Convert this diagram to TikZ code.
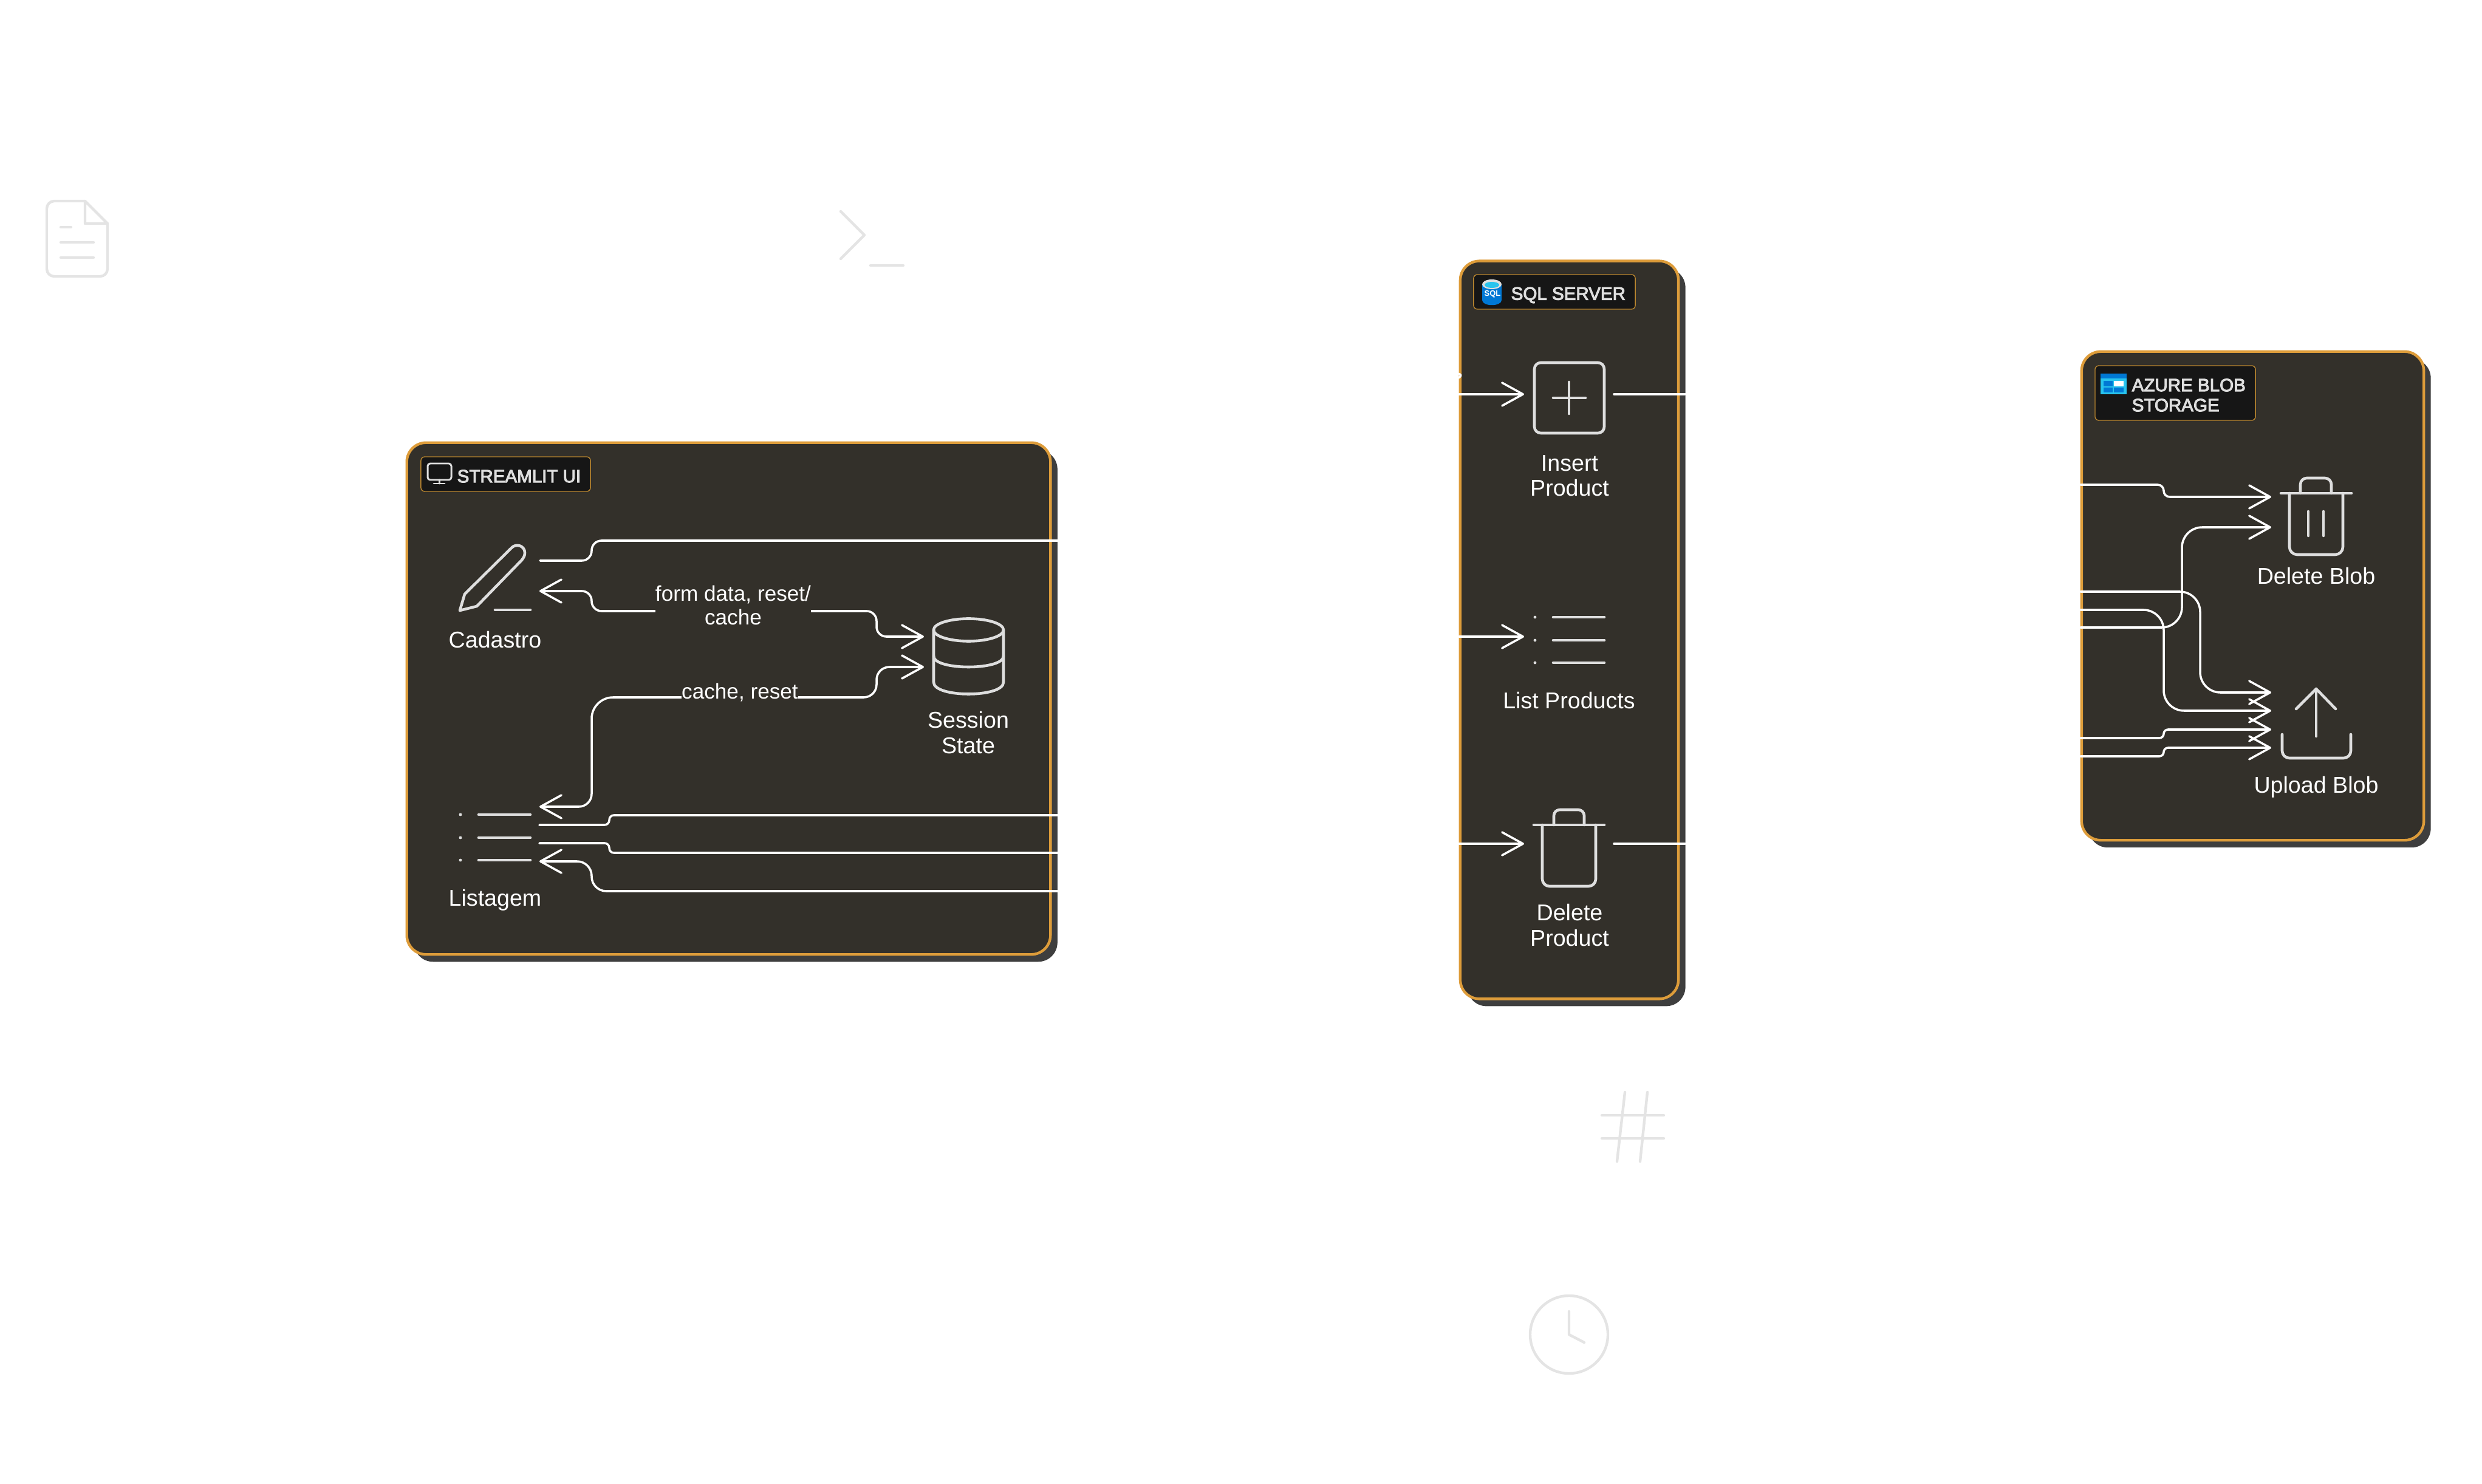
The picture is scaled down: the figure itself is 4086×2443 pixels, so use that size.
\documentclass[tikz,border=0pt]{standalone}
\usepackage{fontspec}
\setmainfont{Liberation Sans}
\newcommand{\heavytext}[1]{\special{pdf:code 2 Tr 0.3 w 0.87 0.87 0.87 RG}#1\special{pdf:code 0 Tr}}
\usetikzlibrary{arrows.meta,shadows}
\definecolor{panelfill}{HTML}{33302A}
\definecolor{paneledge}{HTML}{DD9C3A}
\definecolor{shadowgrey}{HTML}{3E3E3E}
\definecolor{badgefill}{HTML}{161616}
\definecolor{badgeedge}{HTML}{B9862F}
\definecolor{icongrey}{HTML}{DEDEDE}
\definecolor{fadegrey}{HTML}{E4E4E4}
\definecolor{azuredark}{HTML}{0078D4}
\definecolor{azurelight}{HTML}{28C4EE}
\tikzset{
panel node/.style={rectangle,draw=paneledge,fill=panelfill,line width=1.25pt,rounded corners=9pt,inner sep=0pt,copy shadow={shadow xshift=0.115cm,shadow yshift=-0.12cm,draw=none,fill=shadowgrey}},
badge node/.style={rectangle,draw=badgeedge,fill=badgefill,line width=.4pt,rounded corners=1.8pt,inner sep=0pt},
badge text/.style={font=\fontsize{8.4}{9.4}\selectfont,text=icongrey,inner sep=0pt,anchor=west,align=left},
label node/.style={font=\fontsize{10.7}{11.8}\selectfont,text=white,inner sep=0pt,align=center},
flow label/.style={font=\fontsize{10}{11.1}\selectfont,text=white,fill=panelfill,inner sep=0pt,align=center},
conn/.style={draw=white,line width=1pt,line cap=round,line join=round},
tip/.style={-{Straight Barb[length=9.8pt,width=10.8pt,round]}},
both tips/.style={{Straight Barb[length=9.8pt,width=10.8pt,round]}-{Straight Barb[length=9.8pt,width=10.8pt,round]}},
icon/.style={draw=icongrey,line width=1.3pt,line cap=round,line join=round},
fade icon/.style={draw=fadegrey,line width=1.25pt,line cap=round,line join=round}
}
\begin{document}
\begin{tikzpicture}[x=0.01cm,y=-0.01cm]
\useasboundingbox (0,0) rectangle (4086,2443);
\draw[fade icon,rounded corners=3.5pt] (140,331) -- (77,331) -- (77,455) -- (177,455) -- (177,368);
\draw[fade icon] (140,331) -- (177,368) -- (140,368) -- cycle;
\draw[fade icon] (100,374) -- (117,374);
\draw[fade icon] (100,399) -- (154,399);
\draw[fade icon] (100,424) -- (154,424);
\draw[fade icon] (1384,348) -- (1423,387) -- (1384,426);
\draw[fade icon] (1433,437) -- (1487,437);
\draw[fade icon] (2637,1836) -- (2739,1836);
\draw[fade icon] (2637,1874) -- (2739,1874);
\draw[fade icon] (2675,1798) -- (2662,1912);
\draw[fade icon] (2712,1798) -- (2700,1912);
\draw[fade icon] (2583,2197) circle[radius=64];
\draw[fade icon] (2583,2159) -- (2583,2197) -- (2608,2210);

\node[panel node,minimum width=10.59cm,minimum height=8.42cm] (ui) at (1199.5,1150) {};
\node[panel node,minimum width=3.59cm,minimum height=12.14cm] (sql) at (2583.5,1037) {};
\node[panel node,minimum width=5.63cm,minimum height=8.04cm] (blob) at (3708.5,981) {};

\node[badge node,minimum width=2.79cm,minimum height=.57cm] (uiBadge) at (832.5,780.5) {};
\node[badge text] (uiTitle) at (752,784) {\heavytext{STREAMLIT UI}};
\draw[icon,line width=.85pt,rounded corners=1.2pt] (704,763) rectangle (743,790);
\draw[icon,line width=.85pt] (723,790) -- (723,796);
\draw[icon,line width=.85pt] (714,796) -- (732,796);

\node[badge node,minimum width=2.66cm,minimum height=.57cm] (sqlBadge) at (2559,480.5) {};
\node[badge text] (sqlTitle) at (2487,486) {\heavytext{SQL SERVER}};
\fill[azuredark] (2440,468) -- (2440,494) .. controls (2440,505) and (2472,505) .. (2472,494) -- (2472,468) -- cycle;
\fill[icongrey] (2456,468) ellipse[x radius=16,y radius=8];
\fill[azurelight] (2456,469) ellipse[x radius=12,y radius=5];
\node[font=\bfseries\fontsize{3.7}{4}\selectfont,text=white,inner sep=0pt] (sqlGlyph) at (2457,484) {SQL};

\node[badge node,minimum width=2.64cm,minimum height=.9cm] (blobBadge) at (3581,647) {};
\node[badge text] (blobTitle) at (3509,650.5) {\heavytext{AZURE BLOB}\\\heavytext{STORAGE}};
\fill[azurelight] (3458,615) rectangle (3501,649);
\fill[azuredark] (3458,615) rectangle (3501,623);
\fill[azuredark] (3463,627) rectangle (3478,636);
\fill[white] (3480,627) rectangle (3496,636);
\fill[azuredark] (3463,638) rectangle (3478,646);
\fill[azuredark] (3480,638) rectangle (3496,646);

\draw[icon] (757,1005) -- (765,978) -- (842,902) .. controls (849,894) and (864,898) .. (864,910) .. controls (864,915) and (862,918) .. (859,922) -- (785,998) -- cycle;
\draw[icon] (815,1004) -- (873,1004);
\node[label node] (cadastro) at (815,1053) {Cadastro};

\fill[icongrey] (758,1341) circle[radius=2.4];
\fill[icongrey] (758,1379) circle[radius=2.4];
\fill[icongrey] (758,1416) circle[radius=2.4];
\draw[icon] (788,1341) -- (873,1341);
\draw[icon] (788,1379) -- (873,1379);
\draw[icon] (788,1416) -- (873,1416);
\node[label node,anchor=base] (listagem) at (815,1491) {Listagem};

\draw[icon] (1594.5,1037) ellipse[x radius=57.5,y radius=18.5];
\draw[icon] (1537,1037) -- (1537,1123) .. controls (1537,1149) and (1652,1149) .. (1652,1123) -- (1652,1037);
\draw[icon] (1537,1080) .. controls (1537,1104) and (1652,1104) .. (1652,1080);
\node[label node] (session) at (1594,1206) {Session\\State};

\coordinate (cadOut) at (889,923);
\coordinate (cadIn) at (888,973);
\coordinate (stateA) at (1521,1048);
\coordinate (stateB) at (1521,1098);
\coordinate (listIn) at (888,1328);
\coordinate (listOutA) at (888,1358);
\coordinate (listOutB) at (888,1388);
\coordinate (listInB) at (888,1418);
\coordinate (uiEdgeA) at (1741,890);
\coordinate (uiEdgeB) at (1741,1342);
\coordinate (uiEdgeC) at (1741,1404);
\coordinate (uiEdgeD) at (1741,1467);
\draw[conn,rounded corners=4.6pt] (cadOut) -- (974,923) -- (974,890) -- (uiEdgeA);
\draw[conn,both tips,rounded corners=4.6pt] (cadIn) -- (974,973) -- (974,1006) -- (1443,1006) -- (1443,1048) -- (stateA);
\draw[conn,both tips,rounded corners=6pt] (listIn) -- (974,1328) [rounded corners=10pt] -- (974,1148) [rounded corners=6pt] -- (1443,1148) -- (1443,1098) -- (stateB);
\draw[conn,rounded corners=2.2pt] (listOutA) -- (1003,1358) -- (1003,1342) -- (uiEdgeB);
\draw[conn,rounded corners=2.2pt] (listOutB) -- (1003,1388) -- (1003,1404) -- (uiEdgeC);
\draw[conn,tip,rounded corners=6.8pt] (uiEdgeD) -- (974,1467) -- (974,1418) -- (listInB);
\node[flow label] (formLabel) at (1207,996) {form data, reset/\\cache};
\node[flow label] (cacheLabel) at (1218,1140) {cache, reset};

\draw[icon,rounded corners=3pt] (2526,597) rectangle (2641,713);
\draw[icon] (2557,655) -- (2610,655);
\draw[icon] (2583,629) -- (2583,681);
\node[label node] (insert) at (2584,783) {Insert\\Product};

\fill[icongrey] (2527,1016) circle[radius=2.4];
\fill[icongrey] (2527,1054) circle[radius=2.4];
\fill[icongrey] (2527,1091) circle[radius=2.4];
\draw[icon] (2557,1016) -- (2641,1016);
\draw[icon] (2557,1054) -- (2641,1054);
\draw[icon] (2557,1091) -- (2641,1091);
\node[label node,anchor=base] (listProducts) at (2583,1166) {List Products};

\draw[icon] (2525,1358) -- (2641,1358);
\draw[icon,rounded corners=2.8pt] (2558,1358) -- (2558,1333) -- (2608,1333) -- (2608,1358);
\draw[icon,rounded corners=3.4pt] (2539,1358) -- (2539,1459) -- (2627,1459) -- (2627,1358);
\node[label node] (deleteProduct) at (2584,1523) {Delete\\Product};

\coordinate (sqlInA) at (2402,649);
\coordinate (sqlInB) at (2402,1048);
\coordinate (sqlInC) at (2402,1389);
\coordinate (insertIn) at (2509,649);
\coordinate (listIn2) at (2509,1048);
\coordinate (deleteIn) at (2509,1389);
\coordinate (insertOut) at (2657,649);
\coordinate (deleteOut) at (2657,1389);
\coordinate (sqlOutA) at (2774,649);
\coordinate (sqlOutB) at (2774,1389);
\draw[conn,tip] (sqlInA) -- (insertIn);
\draw[conn,tip] (sqlInB) -- (listIn2);
\draw[conn,tip] (sqlInC) -- (deleteIn);
\draw[conn] (insertOut) -- (sqlOutA);
\draw[conn] (deleteOut) -- (sqlOutB);
\draw[conn] (2402,615) -- (2405,618) -- (2402,622);

\draw[icon] (3755,812) -- (3871,812);
\draw[icon,rounded corners=3pt] (3787,812) -- (3787,787) -- (3838,787) -- (3838,812);
\draw[icon,rounded corners=3.6pt] (3769,812) -- (3769,913) -- (3857,913) -- (3857,812);
\draw[icon] (3800,842) -- (3800,882);
\draw[icon] (3825,842) -- (3825,882);
\node[label node] (deleteBlob) at (3813,948) {Delete Blob};

\draw[icon] (3813,1134) -- (3813,1212);
\draw[icon] (3780,1167) -- (3813,1134) -- (3845,1167);
\draw[icon,rounded corners=3.4pt] (3757,1209) -- (3757,1248) -- (3870,1248) -- (3870,1209);
\node[label node] (uploadBlob) at (3813,1296) {Upload Blob};

\coordinate (blobInA) at (3425,798);
\coordinate (blobInB) at (3425,1033);
\coordinate (blobInC) at (3425,974);
\coordinate (blobInD) at (3425,1004);
\coordinate (blobInE) at (3425,1215);
\coordinate (blobInF) at (3425,1245);
\coordinate (delTipA) at (3739,818);
\coordinate (delTipB) at (3739,868);
\coordinate (upTipA) at (3739,1140);
\coordinate (upTipB) at (3739,1170);
\coordinate (upTipC) at (3739,1201);
\coordinate (upTipD) at (3739,1231);
\draw[conn,tip,rounded corners=2.8pt] (blobInA) -- (3562,798) -- (3562,818) -- (delTipA);
\draw[conn,tip,rounded corners=9.5pt] (blobInB) -- (3592,1033) -- (3592,868) -- (delTipB);
\draw[conn,tip,rounded corners=9.5pt] (blobInC) -- (3622,974) -- (3622,1140) -- (upTipA);
\draw[conn,tip,rounded corners=9.5pt] (blobInD) -- (3562,1004) -- (3562,1170) -- (upTipB);
\draw[conn,tip,rounded corners=2pt] (blobInE) -- (3562,1215) -- (3562,1201) -- (upTipC);
\draw[conn,tip,rounded corners=2pt] (blobInF) -- (3562,1245) -- (3562,1231) -- (upTipD);
\end{tikzpicture}
\end{document}
